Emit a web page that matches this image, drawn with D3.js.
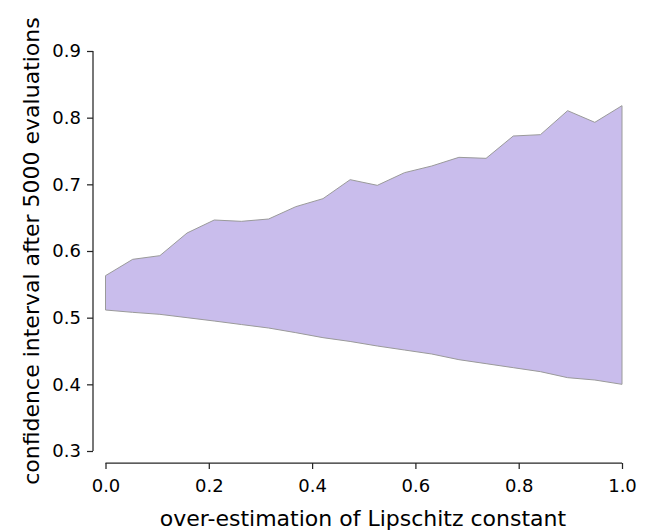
<!DOCTYPE html>
<html>
<head>
<meta charset="utf-8">
<script src="https://cdn.jsdelivr.net/npm/d3@7"></script>
<style>
  body { margin: 0; background: #fff; }
  svg { display: block; font-family: "DejaVu Sans", sans-serif; }
</style>
</head>
<body>
<svg id="chart" width="648" height="531"></svg>
<script>
// Over-estimation factor of the Lipschitz constant (20 evenly spaced settings)
const overEstimation = d3.range(20).map(i => i / 19);
// Upper and lower ends of the confidence interval after 5000 evaluations
const upperBound = [0.563, 0.5875, 0.593, 0.627, 0.6465, 0.6445, 0.648, 0.6665, 0.6785, 0.707,
                    0.6985, 0.7175, 0.7275, 0.7405, 0.739, 0.7725, 0.7745, 0.8105, 0.793, 0.818];
const lowerBound = [0.5115, 0.508, 0.505, 0.500, 0.495, 0.4897, 0.4845, 0.4775, 0.470, 0.4643,
                    0.4575, 0.4515, 0.4455, 0.437, 0.431, 0.425, 0.419, 0.410, 0.4065, 0.400];
const xTicks = [0.0, 0.2, 0.4, 0.6, 0.8, 1.0];
const yTicks = [0.3, 0.4, 0.5, 0.6, 0.7, 0.8, 0.9];

const svg = d3.select("#chart");
const x = d3.scaleLinear().domain([0, 1]).range([105.5, 622]);
const y = d3.scaleLinear().domain([0.3, 0.9]).range([451, 51]);

const band = overEstimation.map((v, i) => ({ x: v, lo: lowerBound[i], hi: upperBound[i] }));

svg.append("path")
  .datum(band)
  .attr("d", d3.area().x(d => x(d.x)).y0(d => y(d.lo)).y1(d => y(d.hi)))
  .attr("fill", "#c9bdec")
  .attr("stroke", "#9a9a9a")
  .attr("stroke-width", 1);

const axisColor = "#262626";

// y axis, offset to the left of the plotting area
const yAxis = svg.append("g")
  .attr("transform", "translate(93,0)")
  .call(d3.axisLeft(y).tickValues(yTicks).tickFormat(d3.format(".1f")).tickSize(6).tickPadding(6));

// x axis, offset below the plotting area
const xAxis = svg.append("g")
  .attr("transform", "translate(0,463)")
  .call(d3.axisBottom(x).tickValues(xTicks).tickFormat(d3.format(".1f")).tickSize(6).tickPadding(10));

[yAxis, xAxis].forEach(g => {
  g.select(".domain").attr("stroke", axisColor).attr("stroke-width", 1.25)
    .attr("d", g === yAxis ? "M0,51V451" : "M105.5,0H622");
  g.selectAll(".tick line").attr("stroke", axisColor).attr("stroke-width", 1.25);
  g.selectAll(".tick text").attr("fill", "#000").style("font-size", "18px")
    .style("font-family", "'DejaVu Sans', sans-serif");
});

svg.append("text")
  .attr("x", 363).attr("y", 526)
  .attr("text-anchor", "middle")
  .style("font-size", "22px")
  .attr("fill", "#000")
  .text("over-estimation of Lipschitz constant");

svg.append("text")
  .attr("transform", "translate(39,251) rotate(-90)")
  .attr("text-anchor", "middle")
  .style("font-size", "22px")
  .attr("fill", "#000")
  .text("confidence interval after 5000 evaluations");
</script>
</body>
</html>
